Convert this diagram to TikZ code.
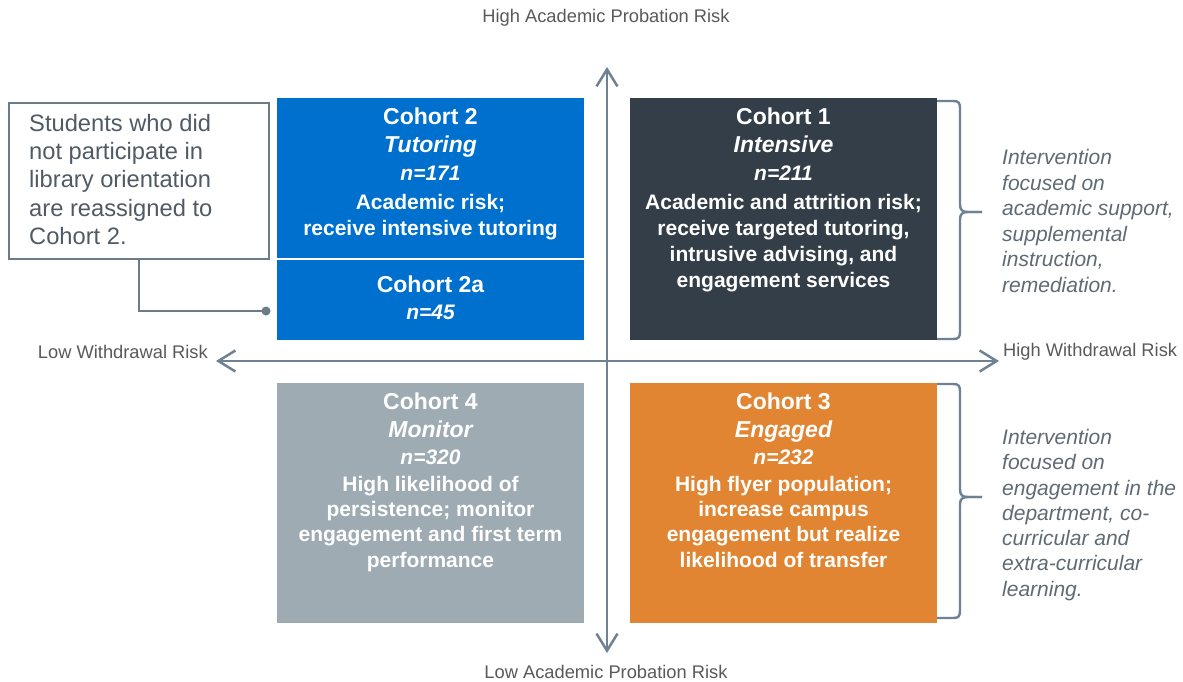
\documentclass[tikz,border=0pt]{standalone}
\usepackage{fontspec}
\setmainfont{Liberation Sans}
\usetikzlibrary{arrows.meta}
\definecolor{cblue}{HTML}{0070CE}
\definecolor{cdark}{HTML}{343E48}
\definecolor{cgray}{HTML}{9EABB3}
\definecolor{corange}{HTML}{E18532}
\definecolor{slate}{HTML}{6E8294}
\definecolor{callline}{HTML}{6B7B88}
\definecolor{labgray}{HTML}{595959}
\definecolor{calltext}{HTML}{505A64}
\definecolor{ittext}{HTML}{5F6A74}
\begin{document}
\begin{tikzpicture}[x=1pt,y=-1pt,
  box/.style={draw=none, inner sep=0pt, outer sep=0pt, minimum width=307pt, anchor=north west},
  boxtext/.style={anchor=north, align=center, inner sep=0pt, text=white, font=\bfseries\fontsize{21}{26}\selectfont},
  boxtextlow/.style={anchor=north, align=center, inner sep=0pt, text=white, font=\bfseries\fontsize{21}{25.3}\selectfont},
  axislab/.style={inner sep=0pt, text=labgray, font=\fontsize{18.3}{22}\selectfont},
  axis/.style={draw=slate, line width=2.5pt, {Straight Barb[length=17pt,width=21pt]}-{Straight Barb[length=17pt,width=21pt]}},
  brace/.style={draw=slate, line width=2.4pt},
  conn/.style={draw=callline, line width=2pt},
  sidetext/.style={anchor=north west, align=left, inner sep=0pt, text=ittext},
]
\useasboundingbox (0,0) rectangle (1183,681);

% quadrant boxes
\node[box, fill=cblue, minimum height=159.5pt] (c2) at (277,98) {};
\node[box, fill=cblue, minimum height=80.5pt] (c2a) at (277,259.5) {};
\node[box, fill=cdark, minimum height=242pt] (c1) at (630,98) {};
\node[box, fill=cgray, minimum height=240pt] (c4) at (277,383) {};
\node[box, fill=corange, minimum height=240pt] (c3) at (630,383) {};

% axes
\coordinate (axtop) at (607,67);
\coordinate (axbot) at (607,653);
\coordinate (axlft) at (216,361);
\coordinate (axrgt) at (999,361);
\draw[axis] (axtop) -- (axbot);
\draw[axis] (axlft) -- (axrgt);

\node[axislab] (ltop) at (606,18) {High Academic Probation Risk};
\node[axislab] (lbot) at (606,672) {Low Academic Probation Risk};
\node[axislab, anchor=east] (llft) at (208,352) {Low Withdrawal Risk};
\node[axislab, anchor=west] (lrgt) at (1003,352) {High Withdrawal Risk};

% box texts
\node[boxtext] (t2) at ([yshift=-10pt]c2.north)
  {{\fontsize{23}{26}\selectfont Cohort 2}\\[2pt]
   {\fontsize{23}{26}\selectfont\itshape Tutoring}\\[1.5pt]
   {\itshape n=171}\\[3pt]
   Academic risk;\\
   receive intensive tutoring};
\node[boxtext] (t2a) at ([yshift=-16pt]c2a.north)
  {{\fontsize{23}{26}\selectfont Cohort 2a}\\[1pt]
   {\itshape n=45}};
\node[boxtext] (t1) at ([yshift=-10pt]c1.north)
  {{\fontsize{23}{26}\selectfont Cohort 1}\\[2pt]
   {\fontsize{23}{26}\selectfont\itshape Intensive}\\[1.5pt]
   {\itshape n=211}\\[3pt]
   Academic and attrition risk;\\
   receive targeted tutoring,\\
   intrusive advising, and\\
   engagement services};
\node[boxtextlow] (t4) at ([yshift=-10pt]c4.north)
  {{\fontsize{23}{26}\selectfont Cohort 4}\\[2.5pt]
   {\fontsize{23}{26}\selectfont\itshape Monitor}\\[1.5pt]
   {\itshape n=320}\\[1.5pt]
   High likelihood of\\
   persistence; monitor\\
   engagement and first term\\
   performance};
\node[boxtextlow] (t3) at ([yshift=-10pt]c3.north)
  {{\fontsize{23}{26}\selectfont Cohort 3}\\[2.5pt]
   {\fontsize{23}{26}\selectfont\itshape Engaged}\\[1.5pt]
   {\itshape n=232}\\[1.5pt]
   High flyer population;\\
   increase campus\\
   engagement but realize\\
   likelihood of transfer};

% callout
\node[draw=callline, line width=2pt, inner sep=0pt, minimum width=260pt, minimum height=156pt, anchor=north west] (call) at (8,102) {};
\node[anchor=north west, align=left, inner sep=0pt, text=calltext, font=\fontsize{23.7}{28.3}\selectfont] (calltxt) at (29,114)
  {Students who did\\not participate in\\library orientation\\are reassigned to\\Cohort 2.};
\coordinate (dot) at (266,311);
\draw[conn] (call.south) |- (dot);
\fill[callline] (dot) circle (4.5pt);

% braces
\coordinate (b1tip) at (982,212);
\draw[brace] (937,101) -- (953,101) .. controls (959,101) and (960,103) .. (960,109) -- (960,204)
  .. controls (960,210) and (962,212) .. (968,212) -- (b1tip);
\draw[brace] (b1tip) -- (968,212) .. controls (962,212) and (960,214) .. (960,220) -- (960,331)
  .. controls (960,337) and (959,339) .. (953,339) -- (937,339);
\coordinate (b2tip) at (982,497);
\draw[brace] (937,384) -- (953,384) .. controls (959,384) and (960,386) .. (960,392) -- (960,489)
  .. controls (960,495) and (962,497) .. (968,497) -- (b2tip);
\draw[brace] (b2tip) -- (968,497) .. controls (962,497) and (960,499) .. (960,505) -- (960,610)
  .. controls (960,616) and (959,618) .. (953,618) -- (937,618);

\node[sidetext, font=\itshape\fontsize{21}{25.6}\selectfont] (s1) at (1002,149)
  {Intervention\\focused on\\academic support,\\supplemental\\instruction,\\remediation.};
\node[sidetext, font=\itshape\fontsize{21}{25.3}\selectfont] (s2) at (1002,429)
  {Intervention\\focused on\\engagement in the\\department, co-\\curricular and\\extra-curricular\\learning.};
\end{tikzpicture}
\end{document}
